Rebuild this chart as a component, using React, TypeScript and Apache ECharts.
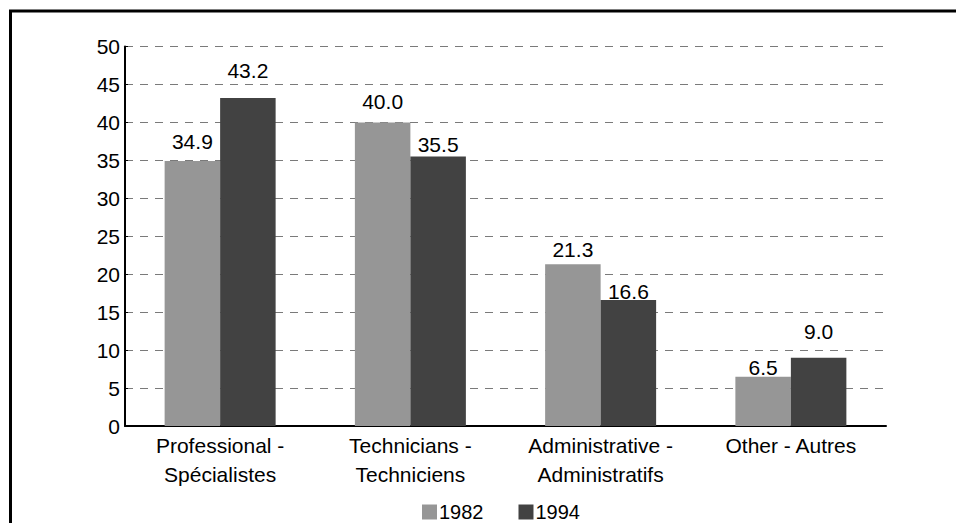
import React, { useEffect, useRef } from "react";
import * as echarts from "echarts";

const categories = [
  "Professional -\nSpécialistes",
  "Technicians -\nTechniciens",
  "Administrative -\nAdministratifs",
  "Other - Autres",
];
const seriesNames = ["1982", "1994"];
const values1982 = [34.9, 40.0, 21.3, 6.5];
const values1994 = [43.2, 35.5, 16.6, 9.0];
const yTicks = { min: 0, max: 50, interval: 5 };

// label offsets above each bar (style only)
const gaps1982 = [9, 10, 4, -1];
const gaps1994 = [17, 1.5, -1.5, 16];

const FONT = "'Liberation Sans', Arial, Helvetica, sans-serif";

export default function App() {
  const ref = useRef<HTMLDivElement>(null);
  useEffect(() => {
    if (!ref.current) return;
    const chart = echarts.init(ref.current, undefined, { renderer: "svg" });
    const mk = (vals: number[], gaps: number[]) =>
      vals.map((v, i) => ({
        value: v,
        label: { distance: gaps[i] },
      }));
    const labelStyle = {
      show: true,
      position: "top" as const,
      color: "#000",
      fontSize: 21,
      fontFamily: FONT,
      formatter: (p: any) => Number(p.value).toFixed(1),
    };
    chart.setOption({
      animation: false,
      backgroundColor: "#fff",
      textStyle: { fontFamily: FONT },
      grid: { left: 125, right: 70, top: 46.5, bottom: 97, containLabel: false },
      legend: {
        data: seriesNames,
        left: 422,
        top: 502,
        padding: 0,
        itemWidth: 15,
        itemHeight: 15,
        itemGap: 35,
        icon: "rect",
        textStyle: {
          fontSize: 20,
          lineHeight: 15,
          color: "#000",
          fontFamily: FONT,
          padding: [0, 0, 0, -3],
        },
      },
      xAxis: {
        type: "category",
        data: categories,
        axisLine: { lineStyle: { color: "#000", width: 2 } },
        axisTick: { show: false },
        axisLabel: {
          color: "#000",
          fontSize: 21,
          lineHeight: 29,
          margin: 5,
          fontFamily: FONT,
          interval: 0,
        },
        splitLine: { show: false },
      },
      yAxis: {
        type: "value",
        min: yTicks.min,
        max: yTicks.max,
        interval: yTicks.interval,
        axisLine: { show: true, lineStyle: { color: "#000", width: 2 } },
        axisTick: { show: true, inside: true, length: 3, lineStyle: { color: "#000", width: 1 } },
        axisLabel: { color: "#000", fontSize: 21, margin: 5, fontFamily: FONT },
        splitLine: {
          show: true,
          lineStyle: { color: "#7a7a7a", width: 1, type: [8, 7] },
        },
      },
      series: [
        {
          name: seriesNames[0],
          type: "bar",
          data: mk(values1982, gaps1982),
          barWidth: 55.5,
          barGap: "0%",
          itemStyle: { color: "#969696" },
          label: labelStyle,
        },
        {
          name: seriesNames[1],
          type: "bar",
          data: mk(values1994, gaps1994),
          barWidth: 55.5,
          barGap: "0%",
          itemStyle: { color: "#424242" },
          label: labelStyle,
        },
      ],
      graphic: [
        {
          type: "rect",
          shape: { x: 10.5, y: 11, width: 1000, height: 600 },
          style: { fill: "none", stroke: "#000", lineWidth: 3 },
          silent: true,
        },
      ],
    });
    return () => chart.dispose();
  }, []);
  return (
    <div
      ref={ref}
      style={{ position: "fixed", left: 0, top: 0, width: 956, height: 523 }}
    />
  );
}
